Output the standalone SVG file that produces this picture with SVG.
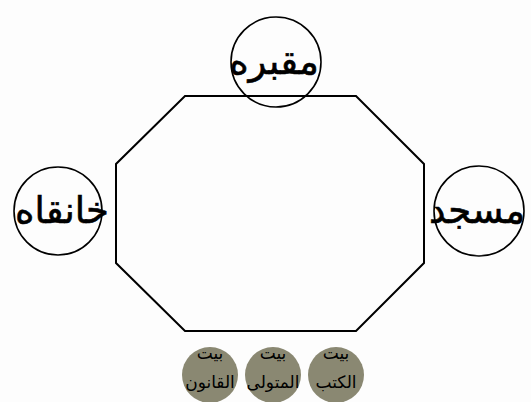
<svg xmlns="http://www.w3.org/2000/svg" width="531" height="402" viewBox="0 0 531 402">
<style>
.big{fill:none;stroke:#000;stroke-width:1.6}
.small{fill:#8a8872;stroke:none}
.lbl{font-family:"DejaVu Sans",sans-serif;font-size:37px;fill:#000;stroke:#000;stroke-width:0.6;text-anchor:middle}
.sl{font-family:"DejaVu Sans",sans-serif;font-size:17px;fill:#000;text-anchor:middle}
</style>
<rect width="531" height="402" fill="#fdfdfd"/>
<g id="connectors">
<polygon points="185,96 356,96 424,164 424,263 356,331 185,331 116,263 116,164" fill="none" stroke="#000" stroke-width="2"/>
</g>
<g id="node-maqbara">
<circle class="big" cx="276" cy="62" r="45"/>
<text class="lbl" x="274" y="74" direction="rtl">مقبره</text>
</g>
<g id="node-khanqah">
<circle class="big" cx="58" cy="211" r="44"/>
<text class="lbl" x="62" y="223" direction="rtl">خانقاه</text>
</g>
<g id="node-masjid">
<circle class="big" cx="479" cy="211" r="45"/>
<text class="lbl" x="477" y="223" direction="rtl">مسجد</text>
</g>
<g id="node-qanun">
<circle class="small" cx="210" cy="375" r="28"/>
<text class="sl" x="210" y="359" direction="rtl">بيت</text>
<text class="sl" x="210" y="388" direction="rtl">القانون</text>
</g>
<g id="node-motavalli">
<circle class="small" cx="273" cy="375" r="28"/>
<text class="sl" x="273" y="359" direction="rtl">بيت</text>
<text class="sl" x="273" y="388" direction="rtl">المتولی</text>
</g>
<g id="node-kotob">
<circle class="small" cx="336" cy="375" r="28"/>
<text class="sl" x="336" y="359" direction="rtl">بيت</text>
<text class="sl" x="336" y="388" direction="rtl">الكتب</text>
</g>
</svg>
